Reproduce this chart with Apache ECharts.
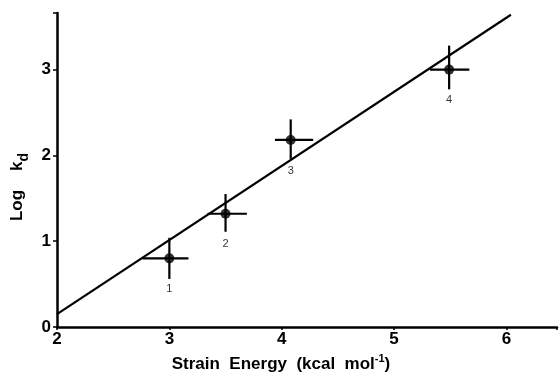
<!DOCTYPE html>
<html>
<head>
<meta charset="utf-8">
<script src="https://cdn.jsdelivr.net/npm/echarts@6/dist/echarts.min.js"></script>
<style>html,body{margin:0;padding:0;background:#fff}#c{width:560px;height:378px}</style>
</head>
<body>
<div id="c"></div>
<script>
// Data
const pointIds = ['1', '2', '3', '4'];
const strainEnergy = [3.0, 3.5, 4.08, 5.49];
const logKd = [0.80, 1.32, 2.18, 3.00];
const xErrLow = [2.76, 3.34, 3.94, 5.32];
const xErrHigh = [3.17, 3.69, 4.28, 5.67];
const yErrLow = [0.56, 1.11, 1.96, 2.77];
const yErrHigh = [1.04, 1.55, 2.42, 3.28];
const fitX = [2.0, 6.04];
const fitY = [0.15, 3.64];
const xTicks = [2, 3, 4, 5, 6];
const yTicks = [0, 1, 2, 3];

const FONT = '"Liberation Sans", Arial, Helvetica, sans-serif';
const chart = echarts.init(document.getElementById('c'), null, {renderer: 'canvas'});

const pts = strainEnergy.map((x, i) => [x, logKd[i], pointIds[i]]);
const errData = strainEnergy.map((x, i) => [x, logKd[i], xErrLow[i], xErrHigh[i], yErrLow[i], yErrHigh[i]]);

chart.setOption({
  animation: false,
  backgroundColor: '#fff',
  grid: {left: 57, right: 0, top: 13, bottom: 49, containLabel: false},
  xAxis: {
    type: 'value', min: 2, max: 6.45, interval: 1,
    splitLine: {show: false},
    axisLine: {lineStyle: {color: '#000', width: 2.5}},
    axisTick: {show: true, length: 3, lineStyle: {color: '#000', width: 1.5}},
    axisLabel: {
      color: '#000', fontFamily: FONT, fontWeight: 'bold', fontSize: 17, margin: 4,
      formatter: v => xTicks.includes(v) ? String(v) : ''
    },
    name: '{n|Strain  Energy  (kcal  mol}{s|-1}{n|)}',
    nameLocation: 'middle', nameGap: 26,
    nameTextStyle: {
      padding: [0, 52, 0, 0],
      rich: {
        n: {fontFamily: FONT, fontWeight: 'bold', fontSize: 17, color: '#000', lineHeight: 20, verticalAlign: 'bottom'},
        s: {fontFamily: FONT, fontWeight: 'bold', fontSize: 11, color: '#000', lineHeight: 20, verticalAlign: 'top'}
      }
    }
  },
  yAxis: {
    type: 'value', min: 0, max: 3.66, interval: 1,
    splitLine: {show: false},
    axisLine: {lineStyle: {color: '#000', width: 2.5}},
    axisTick: {show: true, length: 4, lineStyle: {color: '#000', width: 1.5}},
    axisLabel: {
      color: '#000', fontFamily: FONT, fontWeight: 'bold', fontSize: 17, margin: 6,
      formatter: v => yTicks.includes(v) ? String(v) : ''
    },
    name: '{n|Log    k}{d|d}',
    nameLocation: 'middle', nameGap: 22, nameRotate: 90,
    nameTextStyle: {
      padding: [0, 34, 0, 0],
      rich: {
        n: {fontFamily: FONT, fontWeight: 'bold', fontSize: 17, color: '#000', lineHeight: 22, verticalAlign: 'top'},
        d: {fontFamily: FONT, fontWeight: 'bold', fontSize: 14, color: '#000', lineHeight: 22, verticalAlign: 'bottom'}
      }
    }
  },
  series: [
    {
      type: 'line', data: fitX.map((x, i) => [x, fitY[i]]),
      showSymbol: false, lineStyle: {color: '#000', width: 2.2}, z: 2
    },
    {
      type: 'custom', data: errData, z: 3,
      renderItem: (params, api) => {
        const c = api.coord([api.value(0), api.value(1)]);
        const xl = api.coord([api.value(2), api.value(1)]);
        const xh = api.coord([api.value(3), api.value(1)]);
        const yl = api.coord([api.value(0), api.value(4)]);
        const yh = api.coord([api.value(0), api.value(5)]);
        const st = {stroke: '#000', lineWidth: 2.2};
        return {type: 'group', children: [
          {type: 'line', shape: {x1: xl[0], y1: c[1], x2: xh[0], y2: c[1]}, style: st},
          {type: 'line', shape: {x1: c[0], y1: yl[1], x2: c[0], y2: yh[1]}, style: st}
        ]};
      }
    },
    {
      type: 'scatter', data: pts, symbol: 'circle', symbolSize: 10, z: 4,
      itemStyle: {color: '#000'},
      label: {
        show: true, position: 'bottom', distance: 20,
        formatter: p => p.data[2],
        color: '#000', fontFamily: FONT, fontSize: 11
      }
    }
  ]
});
</script>
</body>
</html>
